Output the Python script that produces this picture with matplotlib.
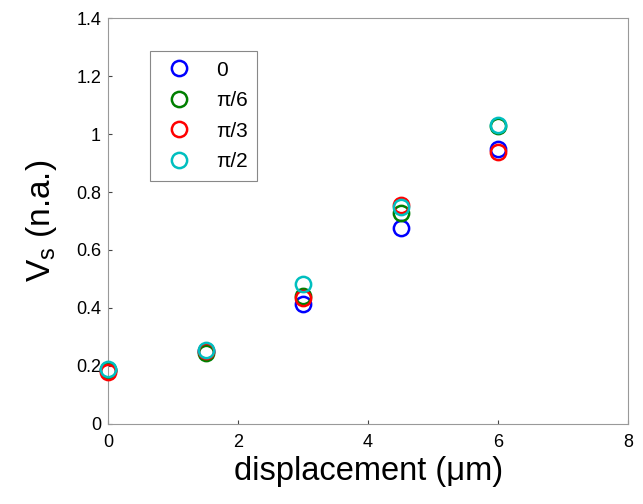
import numpy as np
import matplotlib as mpl
mpl.use('Agg')
import matplotlib.pyplot as plt

plt.rcParams['font.family'] = ['Liberation Sans', 'DejaVu Sans']
plt.rcParams['mathtext.fontset'] = 'custom'
plt.rcParams['mathtext.rm'] = 'Liberation Sans'
plt.rcParams['mathtext.it'] = 'Liberation Sans:italic'

displacement = [0, 1.5, 3, 4.5, 6]
labels = ['0', 'π/6', 'π/3', 'π/2']
vs_0 = [0.185, 0.250, 0.414, 0.676, 0.948]
vs_pi6 = [0.185, 0.245, 0.440, 0.728, 1.028]
vs_pi3 = [0.178, 0.250, 0.435, 0.755, 0.938]
vs_pi2 = [0.190, 0.255, 0.483, 0.748, 1.032]
colors = ['#0000ff', '#007f00', '#ff0000', '#00bfbf']

fig = plt.figure(figsize=(6.43, 5.04), dpi=100)
ax = fig.add_axes([0.168, 0.159, 0.809, 0.805])

for vals, lab, col in zip([vs_0, vs_pi6, vs_pi3, vs_pi2], labels, colors):
    ax.plot(displacement, vals, 'o', mfc='none', mec=col, mew=1.8, ms=11,
            label=lab, clip_on=False, zorder=3)

ax.set_xlim(0, 8)
ax.set_ylim(0, 1.4)
ax.set_xticks([0, 2, 4, 6, 8])
ax.set_yticks(np.arange(0, 1.41, 0.2))
ax.set_yticklabels(['0', '0.2', '0.4', '0.6', '0.8', '1', '1.2', '1.4'])
ax.tick_params(direction='in', labelsize=13, length=3, color='#444444')
ax.tick_params(axis='x', pad=7)
ax.tick_params(axis='y', pad=5)
for s in ax.spines.values():
    s.set_color('#999999')
    s.set_linewidth(0.8)

ax.set_xlabel('displacement (μm)', fontsize=23.5, labelpad=4)
ax.set_ylabel(r'V$_{\mathregular{s}}$ (n.a.)', fontsize=24, labelpad=12)

leg = ax.legend(loc='upper left', bbox_to_anchor=(0.081, 0.918), fontsize=15,
                handletextpad=0.8, borderpad=0.45, labelspacing=0.55,
                borderaxespad=0, fancybox=False, framealpha=1,
                edgecolor='#888888', handlelength=1.9)
leg.get_frame().set_linewidth(0.8)

fig.savefig('out.png', dpi=100)
